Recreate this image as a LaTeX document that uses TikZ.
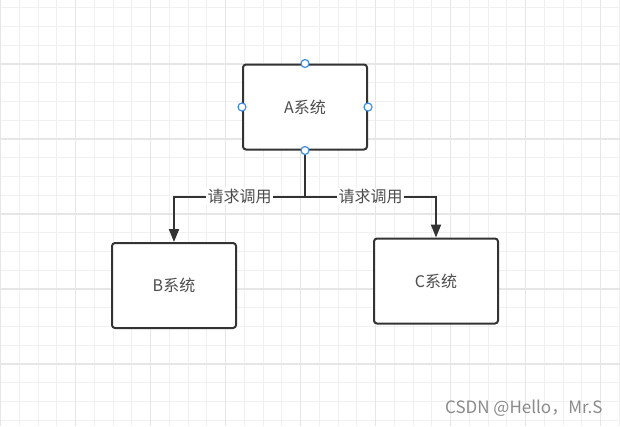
\documentclass[tikz,border=0pt]{standalone}
\usepackage{fontspec}
\newfontfamily\cjk{Noto Sans CJK SC}
\usetikzlibrary{arrows.meta}
\definecolor{gridminor}{HTML}{F0F0F0}
\definecolor{gridmajor}{HTML}{E6E6E6}
\definecolor{boxline}{HTML}{333333}
\definecolor{textgray}{HTML}{4D4D4D}
\definecolor{markgray}{HTML}{8A8A8A}
\definecolor{handleblue}{HTML}{3D8EE8}
\begin{document}
\begin{tikzpicture}[x=1pt,y=-1pt,
  sysbox/.style={draw=boxline,line width=2pt,rounded corners=3pt,fill=white,
    minimum width=124pt,minimum height=85pt,inner sep=0pt,
    font=\cjk\fontsize{16}{19}\selectfont,text=textgray},
  conn/.style={draw=boxline,line width=2pt,-{Triangle[length=13pt,width=10pt]}},
  calllabel/.style={fill=white,inner sep=1.5pt,font=\cjk\fontsize{16}{19}\selectfont,text=textgray},
  handle/.style={circle,draw=handleblue,fill=white,line width=1.2pt,inner sep=0pt,minimum size=8pt}]
\useasboundingbox (0,0) rectangle (620,426);
\fill[white] (0,0) rectangle (620,426);
% background grid
\foreach \i in {0,...,33} \draw[gridminor,line width=1pt] (0.7+18.75*\i,0) -- (0.7+18.75*\i,426);
\foreach \j in {0,...,22} \draw[gridminor,line width=1pt] (0,7.75+18.75*\j) -- (620,7.75+18.75*\j);
\foreach \i in {0,...,8} \draw[gridmajor,line width=1.2pt] (0.7+75*\i,0) -- (0.7+75*\i,426);
\foreach \j in {0,...,4} \draw[gridmajor,line width=1.2pt] (0,64+75*\j) -- (620,64+75*\j);
% systems
\node[sysbox] (A) at (305,107) {A系统};
\node[sysbox] (B) at (174,285.5) {B系统};
\node[sysbox] (C) at (436,281) {C系统};
% calls
\coordinate (split) at (305,196.5);
\draw[draw=boxline,line width=2pt] (A.south) -- (split);
\draw[conn] (split) -| (B.north) node[calllabel,pos=0.25] (callB) {请求调用};
\draw[conn] (split) -| (C.north) node[calllabel,pos=0.25] (callC) {请求调用};
% selection handles
\node[handle] (An) at (A.north) {};
\node[handle] (Aw) at (A.west) {};
\node[handle] (Ae) at (A.east) {};
\node[handle] (As) at (A.south) {};
\node[font=\cjk\fontsize{17}{20}\selectfont,text=markgray,anchor=east] (mark) at (606,408) {CSDN @Hello，Mr.S};
\end{tikzpicture}
\end{document}
